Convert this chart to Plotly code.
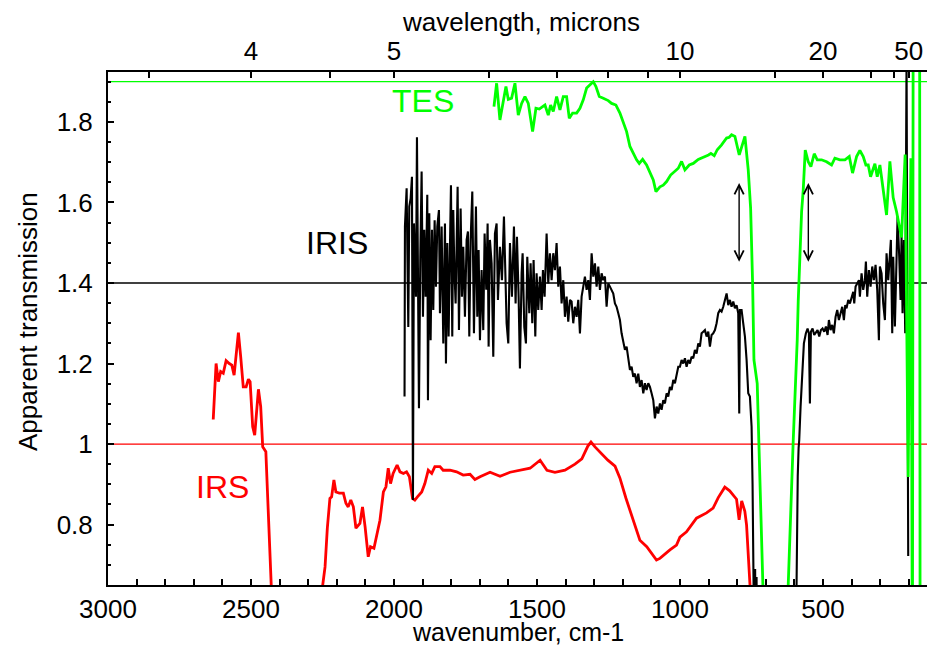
import plotly.graph_objects as go

# ---------------- data (wavenumber in cm-1, apparent transmission) ----------------
# IRS (red)
irs_wn = [2632, 2622, 2614, 2606, 2597, 2587, 2576, 2567, 2559, 2544,
          2536, 2527, 2517, 2509, 2503, 2494, 2487, 2474, 2466, 2459,
          2448, 2440, 2431, 2415, 2265, 2250, 2241, 2233, 2224, 2218,
          2210, 2203, 2191, 2177, 2168, 2160, 2151, 2142, 2133, 2119,
          2110, 2101, 2090, 2082, 2070, 2061, 2049, 2037, 2028, 2020,
          2012, 2003, 1989, 1979, 1967, 1956, 1946, 1935, 1927, 1918,
          1903, 1892, 1880, 1868, 1857, 1839, 1828, 1804, 1781, 1758,
          1734, 1717, 1699, 1664, 1629, 1594, 1559, 1524, 1489, 1465,
          1437, 1402, 1367, 1343, 1322, 1311, 1297, 1280, 1252, 1227,
          1210, 1189, 1164, 1140, 1116, 1099, 1082, 1070, 1052, 1035,
          1012, 1000, 977, 942, 907, 884, 866, 843, 826, 802,
          793, 784, 773, 767, 755, 745]
irs_t = [1.061, 1.200, 1.155, 1.180, 1.176, 1.207, 1.200, 1.196, 1.171, 1.277,
         1.217, 1.142, 1.142, 1.161, 1.155, 1.043, 1.022, 1.136, 1.093, 0.993,
         0.981, 0.811, 0.645, 0.40, 0.40, 0.645, 0.695, 0.791, 0.865, 0.869,
         0.911, 0.881, 0.878, 0.878, 0.853, 0.844, 0.861, 0.844, 0.791, 0.803,
         0.844, 0.795, 0.720, 0.745, 0.741, 0.770, 0.811, 0.881, 0.894, 0.940,
         0.902, 0.927, 0.948, 0.931, 0.927, 0.931, 0.919, 0.865, 0.861, 0.869,
         0.881, 0.902, 0.935, 0.927, 0.944, 0.944, 0.935, 0.935, 0.931, 0.923,
         0.925, 0.912, 0.919, 0.930, 0.920, 0.930, 0.935, 0.940, 0.960, 0.935,
         0.930, 0.935, 0.950, 0.963, 0.995, 1.005, 0.993, 0.980, 0.960, 0.945,
         0.916, 0.866, 0.811, 0.761, 0.745, 0.728, 0.712, 0.716, 0.728, 0.737,
         0.749, 0.769, 0.782, 0.816, 0.829, 0.841, 0.867, 0.893, 0.884, 0.863,
         0.812, 0.859, 0.833, 0.799, 0.650, 0.40]

# IRIS (black), in pieces
iris_wn_a = [1963.0, 1961.6, 1955.7, 1949.9, 1946.4, 1941.7, 1937.1, 1933.6, 1930.1, 1923.1,
             1919.6, 1916.1, 1912.6, 1907.9, 1903.3, 1898.6, 1894.0, 1889.3, 1883.5, 1881.1,
             1876.5, 1871.8, 1867.1, 1862.5, 1857.8, 1853.2, 1848.5, 1842.7, 1839.2, 1833.3,
             1827.5, 1821.7, 1818.2, 1813.5, 1808.9, 1804.2, 1800.7, 1796.1, 1792.6, 1789.1,
             1784.4, 1777.4, 1772.7, 1766.9, 1762.3, 1757.6, 1751.8, 1745.9, 1741.3, 1736.6,
             1731.9, 1726.1, 1720.3, 1713.3, 1708.6, 1704.0, 1699.3, 1693.5, 1687.7, 1683.0,
             1677.2, 1672.5, 1669.0, 1664.4, 1658.5, 1652.7, 1646.9, 1641.0, 1636.4, 1629.4,
             1622.4, 1615.4, 1610.7, 1606.1, 1600.2, 1594.4, 1587.4, 1580.4, 1574.6, 1569.9,
             1564.1, 1559.5, 1553.6, 1550.1, 1544.3, 1538.5, 1533.8, 1526.8, 1522.2, 1516.3,
             1511.7, 1505.8, 1501.2, 1495.4, 1489.5, 1483.7, 1479.0, 1473.2, 1466.2, 1460.4,
             1454.6, 1448.7, 1442.9, 1437.1, 1431.3, 1425.4, 1419.6, 1413.8, 1407.9, 1402.1,
             1396.3, 1390.5, 1384.6]
iris_t_a = [1.118, 1.540, 1.635, 1.291, 1.590, 1.610, 1.664, 0.861, 1.548, 1.366,
            1.762, 1.449, 1.089, 1.465, 1.677, 1.316, 1.532, 1.366, 1.619, 1.109,
            1.573, 1.258, 1.532, 1.333, 1.556, 1.391, 1.540, 1.581, 1.325, 1.540,
            1.250, 1.548, 1.200, 1.499, 1.267, 1.490, 1.643, 1.267, 1.581, 1.441,
            1.349, 1.639, 1.283, 1.585, 1.366, 1.490, 1.316, 1.507, 1.528, 1.267,
            1.507, 1.627, 1.275, 1.590, 1.316, 1.482, 1.258, 1.432, 1.283, 1.523,
            1.383, 1.548, 1.242, 1.507, 1.449, 1.217, 1.523, 1.548, 1.358, 1.490,
            1.407, 1.565, 1.449, 1.300, 1.250, 1.499, 1.366, 1.540, 1.349, 1.515,
            1.366, 1.188, 1.424, 1.474, 1.291, 1.250, 1.465, 1.325, 1.449, 1.300,
            1.457, 1.267, 1.424, 1.333, 1.416, 1.333, 1.432, 1.366, 1.523, 1.399,
            1.474, 1.407, 1.474, 1.432, 1.499, 1.391, 1.441, 1.349, 1.407, 1.316,
            1.366, 1.304, 1.358]
iris_wn_b = [1378.8, 1373.0, 1367.1, 1361.3, 1355.5, 1349.6, 1343.8, 1338.0, 1332.2, 1326.3,
             1320.5, 1314.7, 1308.8, 1303.0, 1297.2, 1291.4, 1285.5, 1279.7, 1273.9, 1268.1,
             1262.2, 1256.4, 1250.6, 1244.8, 1233.1, 1227.3, 1221.5, 1215.6, 1209.8, 1204.0,
             1198.1, 1192.3, 1186.5, 1180.7, 1174.8, 1169.0, 1163.2, 1157.4, 1151.5, 1145.7,
             1139.9, 1134.0, 1128.2, 1122.4, 1116.6, 1110.7, 1104.9, 1099.1, 1093.2, 1087.4,
             1081.6, 1075.8, 1069.9, 1064.1, 1058.3, 1052.4, 1046.6, 1040.8, 1035.0, 1029.1,
             1023.3, 1017.5, 1011.7, 1005.8]
iris_t_b = [1.354, 1.300, 1.341, 1.316, 1.358, 1.275, 1.366, 1.391, 1.416, 1.383,
            1.407, 1.358, 1.474, 1.416, 1.449, 1.391, 1.441, 1.383, 1.424, 1.407,
            1.416, 1.341, 1.399, 1.391, 1.374, 1.349, 1.341, 1.325, 1.308, 1.275,
            1.258, 1.234, 1.242, 1.209, 1.184, 1.192, 1.167, 1.175, 1.151, 1.175,
            1.142, 1.159, 1.126, 1.151, 1.134, 1.151, 1.142, 1.126, 1.109, 1.064,
            1.093, 1.076, 1.101, 1.085, 1.109, 1.101, 1.126, 1.118, 1.142, 1.134,
            1.159, 1.151, 1.175, 1.192]
iris_wn_c = [1000.0, 994.2, 988.4, 982.5, 976.7, 970.9, 965.1, 959.2, 953.4, 947.6,
             941.7, 935.9, 930.1, 924.3, 918.4, 912.6, 906.8, 900.9, 895.1, 889.3,
             883.5, 877.6, 871.8, 866.0, 860.2, 854.3, 848.5, 842.7, 836.8, 831.0,
             825.2, 819.4, 813.5, 807.7, 801.9, 796.1, 792.6, 790.2, 784.4, 778.6,
             772.7, 766.9, 761.1, 755.3, 749.4]
iris_t_c = [1.192, 1.209, 1.200, 1.213, 1.192, 1.209, 1.200, 1.217, 1.213, 1.234,
            1.225, 1.250, 1.242, 1.275, 1.279, 1.283, 1.267, 1.279, 1.242, 1.271,
            1.275, 1.283, 1.300, 1.325, 1.333, 1.329, 1.341, 1.358, 1.374, 1.345,
            1.358, 1.341, 1.354, 1.337, 1.345, 1.325, 1.076, 1.333, 1.333, 1.300,
            1.267, 1.209, 1.126, 1.118, 1.043]
iris_wn_d = [746.0, 743.5, 739.0, 737.0, 735.0, 732.0, 730.0, 596.0, 592.0, 588.0, 585.0, 582.8]
iris_t_d = [0.90, 0.40, 0.40, 0.69, 0.40, 0.67, 0.40, 0.40, 0.75, 0.92, 0.99, 1.010]
iris_wn_e = [578.1, 571.1, 566.5, 559.5, 553.6, 549.0, 545.5, 542.0, 536.2, 530.3,
             524.5, 518.7, 512.8, 507.0, 501.2, 495.4, 489.5, 483.7, 479.0, 473.2,
             467.4, 461.6, 455.7, 449.9, 444.1, 438.3, 432.4, 426.6, 421.9, 417.3,
             411.4, 405.6, 399.8, 393.9, 390.4, 385.8, 380.0, 374.1, 370.7, 364.8,
             359.0, 353.2, 349.7, 345.0, 339.2, 333.3, 327.5, 321.7, 315.9, 310.0,
             304.2, 300.7, 294.9, 289.1, 283.2, 277.4, 271.6, 265.8, 262.3, 257.6,
             254.1, 248.3, 242.4, 238.9, 233.1, 228.5, 225.0, 221.5, 216.8, 212.2,
             207.5, 201.7]
iris_t_e = [1.093, 1.192, 1.250, 1.275, 1.287, 1.275, 1.101, 1.279, 1.287, 1.271,
            1.279, 1.283, 1.267, 1.283, 1.287, 1.279, 1.292, 1.271, 1.308, 1.283,
            1.296, 1.275, 1.316, 1.333, 1.308, 1.325, 1.341, 1.308, 1.345, 1.337,
            1.358, 1.349, 1.366, 1.378, 1.349, 1.391, 1.399, 1.407, 1.366, 1.424,
            1.383, 1.407, 1.453, 1.366, 1.432, 1.391, 1.441, 1.407, 1.445, 1.383,
            1.258, 1.441, 1.424, 1.349, 1.308, 1.474, 1.407, 1.482, 1.507, 1.275,
            1.465, 1.292, 1.523, 1.565, 1.465, 1.358, 1.515, 1.325, 1.507, 1.275,
            1.960, 0.722]

# TES (green)
tes_wn = [1650.3, 1641.0, 1629.4, 1617.7, 1608.4, 1600.2, 1588.6, 1576.9, 1565.3, 1553.6,
          1541.9, 1530.3, 1515.2, 1503.5, 1491.8, 1480.2, 1472.0, 1460.4, 1452.2, 1442.9,
          1431.2, 1419.6, 1407.9, 1396.3, 1386.9, 1375.3, 1361.3, 1349.7, 1338.0, 1326.3,
          1314.7, 1303.0, 1293.7, 1282.0, 1268.0, 1250.6, 1238.9, 1223.8, 1209.8, 1198.1,
          1186.5, 1174.8, 1163.2, 1151.5, 1142.2, 1130.5, 1116.6, 1104.9, 1093.2, 1083.9,
          1069.9, 1058.3, 1046.6, 1032.6, 1017.5, 1005.8, 994.2, 982.5, 967.4, 953.4,
          935.9, 918.4, 900.0, 891.6, 880.0, 869.5, 854.3, 836.8, 827.5, 819.4,
          807.7, 792.6, 772.7, 761.1, 752.8, 745.8, 741.1, 729.7, 720.3, 708.7,
          700.0, 630.0, 621.3, 603.7, 597.9, 589.8, 586.3, 578.1, 574.5, 568.8,
          561.8, 551.3, 542.0, 530.3, 519.8, 504.7, 487.2, 469.7, 458.1, 440.6,
          423.1, 407.9, 396.3, 382.3, 370.7, 359.0, 349.7, 341.5, 333.3, 318.2,
          310.0, 300.7, 289.1, 277.4, 265.8, 254.3, 242.4, 225.0, 212.4, 201.8,
          192.4, 187.0, 184.0, 162.0, 160.0]
tes_t = [1.838, 1.896, 1.805, 1.855, 1.888, 1.856, 1.859, 1.896, 1.817, 1.846,
         1.863, 1.846, 1.776, 1.834, 1.832, 1.838, 1.842, 1.817, 1.842, 1.826,
         1.863, 1.830, 1.863, 1.863, 1.809, 1.822, 1.822, 1.834, 1.855, 1.884,
         1.892, 1.900, 1.888, 1.863, 1.859, 1.853, 1.846, 1.842, 1.822, 1.797,
         1.776, 1.739, 1.722, 1.706, 1.697, 1.707, 1.693, 1.673, 1.656, 1.627,
         1.639, 1.643, 1.652, 1.668, 1.677, 1.685, 1.702, 1.681, 1.693, 1.697,
         1.707, 1.712, 1.718, 1.722, 1.716, 1.731, 1.743, 1.760, 1.762, 1.768,
         1.764, 1.718, 1.764, 1.681, 1.586, 1.398, 1.209, 1.150, 0.927, 0.650,
         0.40, 0.40, 0.650, 1.010, 1.098, 1.258, 1.355, 1.507, 1.577, 1.631,
         1.730, 1.701, 1.689, 1.721, 1.706, 1.706, 1.701, 1.693, 1.710, 1.706,
         1.706, 1.714, 1.673, 1.714, 1.729, 1.714, 1.693, 1.693, 1.664, 1.696,
         1.664, 1.693, 1.635, 1.569, 1.702, 1.612, 1.577, 1.513, 1.719, 0.918,
         1.710, 0.40, 2.30, 2.30, 0.40]

# reference (unit-transmission) levels of the offset spectra
ref_levels = [1.9, 1.4, 1.0]
ref_colors = ["#00ff00", "#000000", "#ff0000"]

# series labels
label_text = ["TES", "IRIS", "IRS"]
label_wn = [1897, 2198, 2600]
label_t = [1.852, 1.499, 0.893]
label_colors = ["#00ff00", "#000000", "#ff0000"]

# double arrows
arrow_wn = [793, 551]
arrow_lo = 1.453
arrow_hi = 1.652

# axes
x_range = [3000, 136]
y_range = [0.65, 1.924]
bottom_ticks = [3000, 2500, 2000, 1500, 1000, 500]
y_ticks = [0.8, 1.0, 1.2, 1.4, 1.6, 1.8]
y_ticktext = ["0.8", "1", "1.2", "1.4", "1.6", "1.8"]
top_major_um = [4, 5, 10, 20, 50]
top_minor_um = [3.5, 4.5, 6, 7, 8, 9, 15, 30, 40]

iris_wn = iris_wn_a + iris_wn_b + iris_wn_c + iris_wn_d + iris_wn_e
iris_t = iris_t_a + iris_t_b + iris_t_c + iris_t_d + iris_t_e
assert len(iris_wn) == len(iris_t)
assert len(irs_wn) == len(irs_t)
assert len(tes_wn) == len(tes_t)

FONT = "Liberation Sans, Arial, Helvetica, sans-serif"

fig = go.Figure()

for lvl, col in zip(ref_levels, ref_colors):
    fig.add_shape(type="line", xref="paper", x0=0, x1=1, yref="y", y0=lvl, y1=lvl,
                  line=dict(color=col, width=1.3), layer="below")

fig.add_trace(go.Scatter(x=irs_wn, y=irs_t, mode="lines",
                         line=dict(color="#ff0000", width=2.8), hoverinfo="skip"))
fig.add_trace(go.Scatter(x=iris_wn, y=iris_t, mode="lines",
                         line=dict(color="#000000", width=2.1), hoverinfo="skip"))
fig.add_trace(go.Scatter(x=tes_wn, y=tes_t, mode="lines",
                         line=dict(color="#00ff00", width=2.8), hoverinfo="skip"))

top_vals = [1e4 / u for u in top_major_um] + [1e4 / u for u in top_minor_um]
top_text = [str(u) for u in top_major_um] + [""] * len(top_minor_um)
fig.add_trace(go.Scatter(x=top_vals, y=[ref_levels[1]] * len(top_vals), xaxis="x2",
                         mode="markers", marker=dict(opacity=0), hoverinfo="skip"))

for txt, w, t, c in zip(label_text, label_wn, label_t, label_colors):
    fig.add_annotation(x=w, y=t, xref="x", yref="y", text=txt, showarrow=False,
                       font=dict(family=FONT, size=32, color=c))

for w in arrow_wn:
    fig.add_annotation(x=w, y=arrow_lo, ax=w, ay=arrow_hi, xref="x", yref="y",
                       axref="x", ayref="y", text="", showarrow=True,
                       arrowhead=5, startarrowhead=5, arrowside="end+start",
                       arrowsize=1.3, startarrowsize=1.3, arrowwidth=1.4,
                       arrowcolor="black", standoff=0, startstandoff=0)

fig.add_annotation(x=0.5, y=-0.0925, xref="paper", yref="paper", text="wavenumber, cm-1",
                   showarrow=False, font=dict(family=FONT, size=25, color="black"),
                   xanchor="center", yanchor="middle")
fig.add_annotation(x=0.504, y=1.097, xref="paper", yref="paper", text="wavelength, microns",
                   showarrow=False, font=dict(family=FONT, size=26, color="black"),
                   xanchor="center", yanchor="middle")
fig.add_annotation(x=-0.0975, y=0.513, xref="paper", yref="paper", text="Apparent transmission",
                   showarrow=False, textangle=-90, font=dict(family=FONT, size=26, color="black"),
                   xanchor="center", yanchor="middle")

axis_common = dict(showline=True, linewidth=2, linecolor="black", showgrid=False,
                   zeroline=False, ticks="inside", tickwidth=1.5, tickcolor="black",
                   tickfont=dict(family=FONT, size=26, color="black"))

fig.update_layout(
    width=927, height=648,
    margin=dict(l=108, r=0, t=72, b=63, pad=0),
    paper_bgcolor="white", plot_bgcolor="white",
    showlegend=False,
    font=dict(family=FONT, size=26, color="black"),
    xaxis=dict(range=x_range, tickmode="array", tickvals=bottom_ticks,
               ticktext=[str(v) for v in bottom_ticks], ticklen=6,
               minor=dict(dtick=100, tick0=0, ticks="inside", ticklen=6, tickwidth=1.5,
                          tickcolor="black", showgrid=False),
               ticklabelstandoff=0, **axis_common),
    xaxis2=dict(range=x_range, overlaying="x", side="top", anchor="y", tickmode="array",
                tickvals=top_vals, ticktext=top_text, ticklen=6, ticklabelstandoff=0,
                **axis_common),
    yaxis=dict(range=y_range, tickmode="array", tickvals=y_ticks, ticktext=y_ticktext,
               ticklen=6,
               minor=dict(dtick=0.05, tick0=0, ticks="inside", ticklen=3, tickwidth=1.5,
                          tickcolor="black", showgrid=False),
               ticklabelstandoff=8, **axis_common),
)

fig.write_html("out.html")
